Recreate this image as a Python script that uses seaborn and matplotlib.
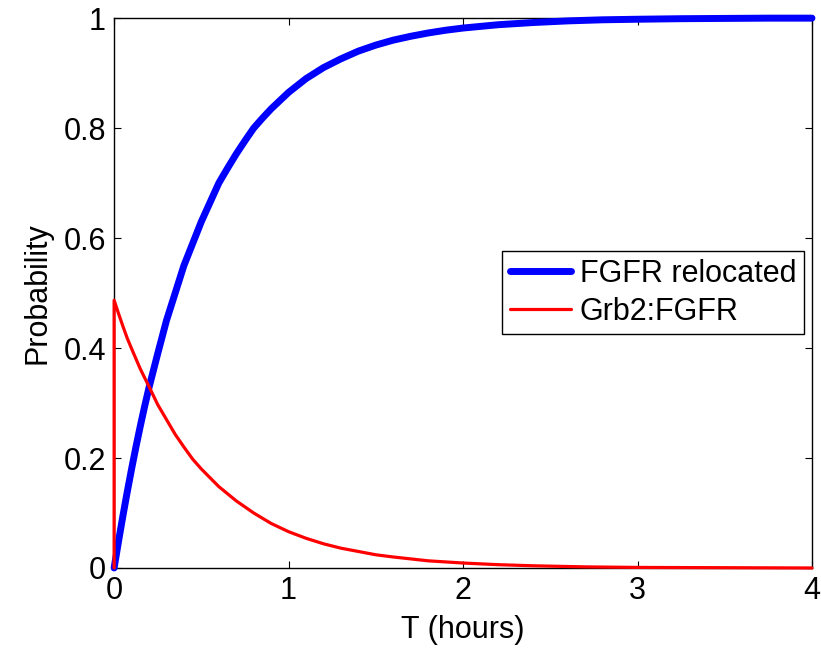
import pandas as pd
import numpy as np
import matplotlib
matplotlib.use("Agg")
import matplotlib.pyplot as plt
import seaborn as sns

# values
t_relocated = [0, 0.025, 0.05, 0.075, 0.1, 0.125, 0.15, 0.175, 0.2, 0.25, 0.3, 0.35, 0.4, 0.45,
               0.5, 0.55, 0.6, 0.65, 0.7, 0.75, 0.8, 0.85, 0.9, 0.95, 1.0, 1.1, 1.2, 1.3, 1.4,
               1.5, 1.6, 1.7, 1.8, 1.9, 2.0, 2.2, 2.4, 2.6, 2.8, 3.0, 3.25, 3.5, 3.75, 4.0]
p_relocated = [0, 0.048, 0.094, 0.138, 0.18, 0.22, 0.258, 0.294, 0.328, 0.39, 0.45, 0.50, 0.55, 0.59,
               0.63, 0.665, 0.70, 0.727, 0.753, 0.777, 0.80, 0.818, 0.835, 0.85, 0.865, 0.89, 0.91,
               0.926, 0.94, 0.951, 0.96, 0.967, 0.973, 0.978, 0.982, 0.988, 0.992, 0.995, 0.997,
               0.998, 0.999, 0.9995, 1.0, 1.0]

t_grb2 = [0, 0, 0.025, 0.05, 0.075, 0.1, 0.15, 0.2, 0.25, 0.3, 0.35, 0.4, 0.45, 0.5, 0.6, 0.7,
          0.8, 0.9, 1.0, 1.1, 1.2, 1.3, 1.4, 1.5, 1.6, 1.8, 2.0, 2.2, 2.4, 2.7, 3.0, 3.5, 4.0]
p_grb2 = [0, 0.487, 0.463, 0.44, 0.418, 0.399, 0.362, 0.33, 0.297, 0.27, 0.243, 0.22, 0.198, 0.18,
          0.148, 0.122, 0.10, 0.081, 0.066, 0.054, 0.044, 0.036, 0.030, 0.024, 0.020, 0.013,
          0.009, 0.006, 0.004, 0.002, 0.001, 0.0005, 0.0]

labels = ["FGFR relocated", "Grb2:FGFR"]
x_ticks = [0, 1, 2, 3, 4]
y_ticks = [0, 0.2, 0.4, 0.6, 0.8, 1]
y_ticklabels = ["0", "0.2", "0.4", "0.6", "0.8", "1"]

sns.set_style("white")
plt.rcParams['font.family'] = ['Liberation Sans', 'DejaVu Sans']
plt.rcParams['text.color'] = 'black'
plt.rcParams['axes.labelcolor'] = 'black'

fig = plt.figure(figsize=(8.21, 6.48), dpi=100)
ax = fig.add_axes([0.139, 0.1235, 0.850, 0.8485])

sns.lineplot(x=t_relocated, y=p_relocated, ax=ax, color='#0000ff', linewidth=5,
             label=labels[0], estimator=None, sort=False, zorder=3, clip_on=False)
sns.lineplot(x=t_grb2, y=p_grb2, ax=ax, color='#ff0000', linewidth=2.3,
             label=labels[1], estimator=None, sort=False, zorder=4, clip_on=False)

ax.set_xlim(0, 4)
ax.set_ylim(0, 1)
ax.set_xticks(x_ticks)
ax.set_xticklabels([str(v) for v in x_ticks])
ax.set_yticks(y_ticks)
ax.set_yticklabels(y_ticklabels)
ax.tick_params(direction='in', length=5, width=0.8, colors='black', labelsize=22,
               top=True, right=True, bottom=True, left=True, pad=6)
for s in ax.spines.values():
    s.set_visible(True)
    s.set_color('black')
    s.set_linewidth(1.0)

ax.set_xlabel('T (hours)', fontsize=22, labelpad=6)
ax.set_ylabel('Probability', fontsize=22, labelpad=8)

leg = ax.legend(loc='upper right', bbox_to_anchor=(0.9885, 0.576), borderaxespad=0,
                fontsize=22, fancybox=False, frameon=True, edgecolor='black',
                handlelength=2.0, handletextpad=0.3, labelspacing=0.25, borderpad=0.25)
leg.get_frame().set_linewidth(1.0)
leg.get_frame().set_alpha(1)
leg.set_zorder(5)

fig.savefig('out.png', dpi=100)
